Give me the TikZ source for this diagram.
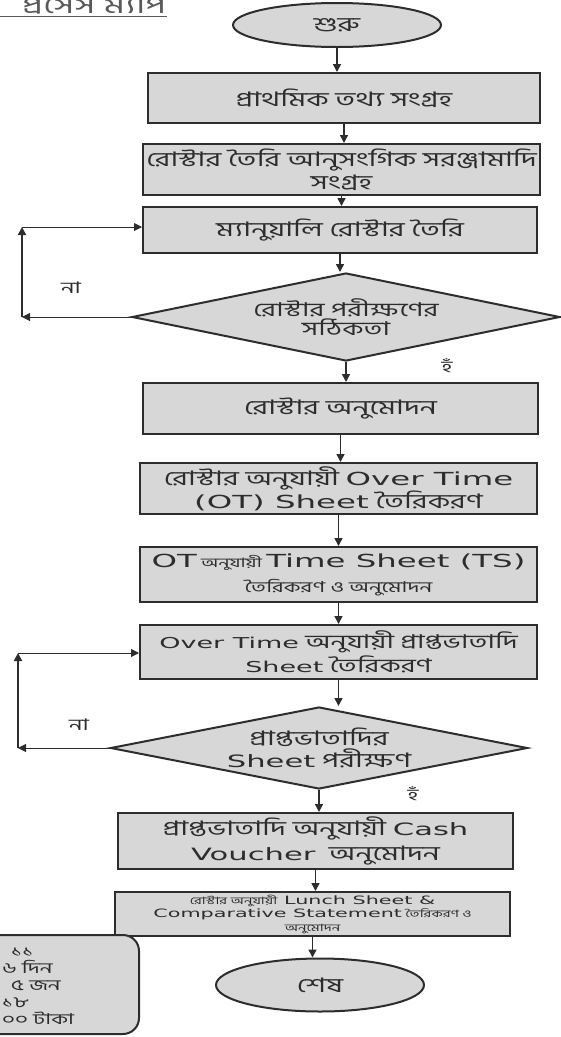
\documentclass[tikz,border=0pt]{standalone}
\usepackage{fontspec}
\setmainfont[Script=Bengali,FakeStretch=1.5]{Hind Siliguri}
\newfontfamily\lat[FakeStretch=1.8]{DejaVu Sans}
\usetikzlibrary{shapes.geometric,arrows.meta}
\definecolor{boxgray}{RGB}{215,215,215}
\definecolor{ink}{RGB}{45,45,45}
\newcommand{\LT}[2]{{\lat\fontsize{#1}{#1}\selectfont #2}}
\begin{document}
\begin{tikzpicture}[x=1pt,y=-1pt,
  box/.style={draw=ink, line width=2pt, fill=boxgray, align=center, inner sep=1pt, text=ink},
  term/.style={ellipse, draw=ink, line width=2pt, fill=boxgray, inner sep=0pt, text=ink},
  dec/.style={diamond, draw=ink, line width=2pt, fill=boxgray, inner sep=0pt, aspect=5, align=center, text=ink},
  arr/.style={draw=ink, line width=1.5pt, -{Triangle[length=8pt,width=8pt]}},
  lbl/.style={text=ink, inner sep=0pt, font=\fontsize{16}{18}\selectfont},
  bfont/.style={font=\fontsize{20}{23}\selectfont},
  notetext/.style={anchor=base west, text=ink, inner sep=0pt, font=\fontsize{15}{17}\selectfont}]
\useasboundingbox (0,0) rectangle (561,1037);

% title
\node[anchor=base west, text=black!65, inner sep=0pt, font=\fontsize{24}{26}\selectfont] (title) at (22,13) {প্রসেস ম্যাপ};
\draw[black!65, line width=0.8pt] (0,16) -- (title.east |- 0,16);

% flow nodes
\node[term, minimum width=208pt, minimum height=44pt, font=\fontsize{20}{22}\selectfont] (start) at (337,25) {শুরু};
\node[box, minimum width=392pt, minimum height=50pt, bfont] (b1) at (344,98) {প্রাথমিক তথ্য সংগ্রহ};
\node[box, minimum width=397pt, minimum height=51pt, bfont] (b2) at (341.5,169.5) {রোস্টার তৈরি আনুসংগিক সরঞ্জামাদি\\সংগ্রহ};
\node[box, minimum width=394pt, minimum height=46pt, bfont] (b3) at (340,230) {ম্যানুয়ালি রোস্টার তৈরি};
\node[dec, minimum width=428pt, minimum height=88pt, font=\fontsize{19}{19}\selectfont] (d1) at (346,317) {রোস্টার পরীক্ষণের\\সঠিকতা};
\node[box, minimum width=395pt, minimum height=51pt, bfont] (b4) at (340.5,408.5) {রোস্টার অনুমোদন};
\node[box, minimum width=397pt, minimum height=51pt, bfont] (b5) at (338.5,488.5) {রোস্টার অনুযায়ী \LT{18}{Over Time}\\\LT{18}{(OT) Sheet} তৈরিকরণ};
\node[box, minimum width=397pt, minimum height=55pt, font=\fontsize{13}{25}\selectfont] (b6) at (338.5,574.5) {\LT{18}{OT} অনুযায়ী \LT{18}{Time Sheet (TS)}\\{\fontsize{15}{25}\selectfont তৈরিকরণ ও অনুমোদন}};
\node[box, minimum width=397pt, minimum height=54pt, font=\fontsize{19}{24}\selectfont] (b7) at (338.5,652) {\LT{15}{Over Time} অনুযায়ী প্রাপ্তভাতাদি\\\LT{15}{Sheet} তৈরিকরণ};
\node[dec, minimum width=417pt, minimum height=82pt, font=\fontsize{20}{22}\selectfont] (d2) at (319,748) {প্রাপ্তভাতাদির\\\LT{17}{Sheet} পরীক্ষণ};
\node[box, minimum width=395pt, minimum height=56pt, font=\fontsize{20}{25}\selectfont] (b8) at (315.5,841) {প্রাপ্তভাতাদি অনুযায়ী \LT{17}{Cash}\\\LT{17}{Voucher}\ \ অনুমোদন};
\node[box, minimum width=395pt, minimum height=44pt, font=\fontsize{10}{13.5}\selectfont] (b9) at (312.5,914) {রোস্টার অনুযায়ী\ \ \LT{11.5}{Lunch Sheet \&}\\\LT{11.5}{Comparative Statement} তৈরিকরণ ও\\অনুমোদন};
\node[term, minimum width=208pt, minimum height=53pt, font=\fontsize{20}{22}\selectfont] (end) at (320,985) {শেষ};

% main arrows
\draw[arr] (start.south) -- (start.south |- b1.north);
\draw[arr] (b1.south) -- (b1.south |- b2.north);
\draw[arr] (b2.south) -- (b2.south |- b3.north);
\draw[arr] (b3.south) -- (b3.south |- d1.north);
\draw[arr] (d1.south) -- (d1.south |- b4.north);
\draw[arr] (b4.south) -- (b4.south |- b5.north);
\draw[arr] (b5.south) -- (b5.south |- b6.north);
\draw[arr] (b6.south) -- (b6.south |- b7.north);
\draw[arr] (b7.south) -- (b7.south |- d2.north);
\draw[arr] (d2.south) -- (d2.south |- b8.north);
\draw[arr] (b8.south) -- (b8.south |- b9.north);
\draw[arr] (b9.south) -- (b9.south |- end.north);

% loop 1
\coordinate (c1) at (22,317);
\coordinate (c2) at (22,227);
\draw[arr, line width=1pt] (d1.west) -- (c1);
\draw[arr, line width=2.6pt] (c1) -- (c2);
\draw[arr, line width=1pt] (c2) -- (c2 -| b3.west);
\node[lbl] (no1) at (71,288) {না};
\node[lbl] (yes1) at (447,366) {হঁ};

% loop 2
\coordinate (c3) at (18,748);
\coordinate (c4) at (18,653);
\draw[arr, line width=1pt] (d2.west) -- (c3);
\draw[arr, line width=2.6pt] (c3) -- (c4);
\draw[arr, line width=1pt] (c4) -- (c4 -| b7.west);
\node[lbl] (no2) at (79,725) {না};
\node[lbl] (yes2) at (413,794) {হঁ};

% note box
\node[draw=ink, line width=2pt, fill=boxgray, rounded corners=16pt, minimum width=160pt, minimum height=99pt] (note) at (59,984.5) {};
\node[notetext] (n1) at (11,956) {১১};
\node[notetext] (n2) at (2,973) {৬ দিন};
\node[notetext] (n3) at (11,990) {৫ জন};
\node[notetext] (n4) at (2,1007) {১৮};
\node[notetext] (n5) at (2,1024) {০০ টাকা};
\end{tikzpicture}
\end{document}
